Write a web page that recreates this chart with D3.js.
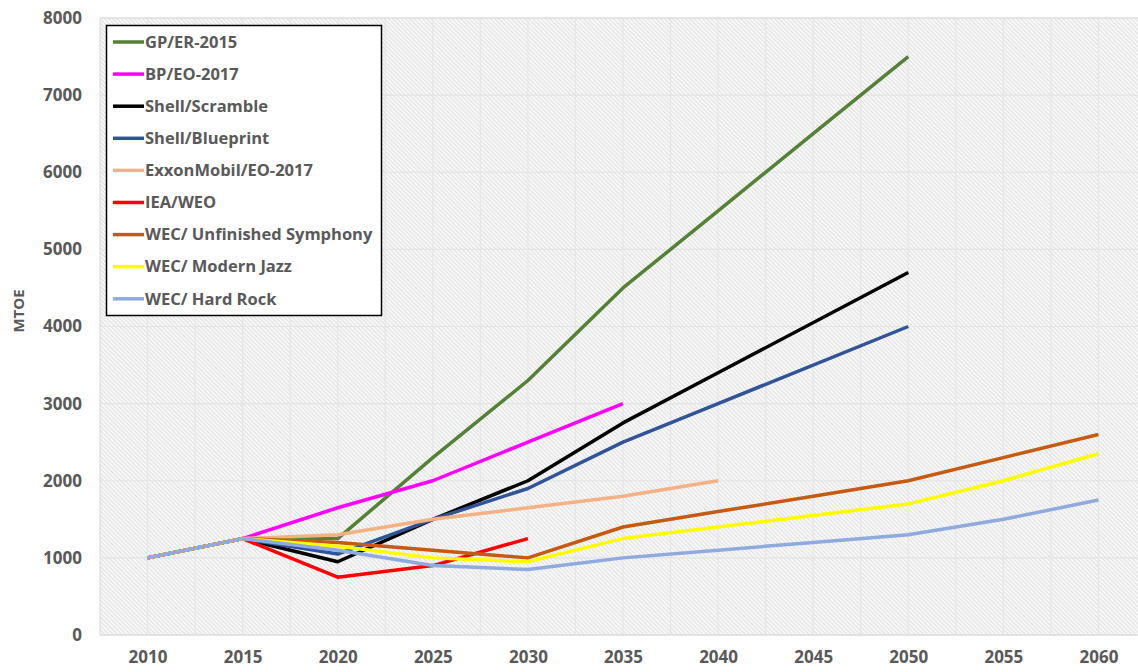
<!DOCTYPE html>
<html>
<head>
<meta charset="utf-8">
<script src="https://cdn.jsdelivr.net/npm/d3@7"></script>
<style>
  html, body { margin: 0; padding: 0; background: #fff; }
  svg text { font-family: "Open Sans", sans-serif; font-weight: 700; fill: #595959; }
</style>
</head>
<body>
<div id="chart"></div>
<script>
const years = [2010, 2015, 2020, 2025, 2030, 2035, 2040, 2045, 2050, 2055, 2060];
const yTicks = [0, 1000, 2000, 3000, 4000, 5000, 6000, 7000, 8000];

const seriesNames = [
  "GP/ER-2015", "BP/EO-2017", "Shell/Scramble", "Shell/Blueprint", "ExxonMobil/EO-2017",
  "IEA/WEO", "WEC/ Unfinished Symphony", "WEC/ Modern Jazz", "WEC/ Hard Rock"
];
const seriesColors = [
  "#548235", "#ff00ff", "#000000", "#2f5597", "#f4b183",
  "#ff0000", "#c55a11", "#ffff00", "#8faadc"
];

// values per year; null = no data
const gpEr2015        = [1000, 1250, 1250, 2300, 3300, 4500, 5500, 6500, 7500, null, null];
const bpEo2017        = [1000, 1250, 1650, 2000, 2500, 3000, null, null, null, null, null];
const shellScramble   = [1000, 1250, 950, 1500, 2000, 2750, 3400, null, 4700, null, null];
const shellBlueprint  = [1000, 1250, 1050, 1500, 1900, 2500, 3000, null, 4000, null, null];
const exxonEo2017     = [1000, 1250, 1300, 1500, 1650, 1800, 2000, null, null, null, null];
const ieaWeo          = [1000, 1250, 750, 900, 1250, null, null, null, null, null, null];
const wecUnfinished   = [1000, 1250, 1200, 1100, 1000, 1400, 1600, 1800, 2000, 2300, 2600];
const wecModernJazz   = [1000, 1250, 1150, 1000, 950, 1250, 1400, 1550, 1700, 2000, 2350];
const wecHardRock     = [1000, 1250, 1100, 900, 850, 1000, 1100, 1200, 1300, 1500, 1750];

const seriesValues = [gpEr2015, bpEo2017, shellScramble, shellBlueprint, exxonEo2017,
  ieaWeo, wecUnfinished, wecModernJazz, wecHardRock];

const W = 1138, H = 672;
const plot = { left: 100, right: 1146, top: 18, bottom: 635 };

const svg = d3.select("#chart").append("svg").attr("width", W).attr("height", H);

const x = d3.scaleLinear().domain([2007.5, 2062.5]).range([plot.left, plot.right]);
const y = d3.scaleLinear().domain([0, 8000]).range([plot.bottom, plot.top]);

// hatched background
const defs = svg.append("defs");
const pat = defs.append("pattern")
  .attr("id", "hatch").attr("patternUnits", "userSpaceOnUse")
  .attr("width", 3).attr("height", 3)
  .attr("patternTransform", "rotate(-45)");
pat.append("rect").attr("width", 3).attr("height", 3).attr("fill", "#f8f8f8");
pat.append("rect").attr("width", 1).attr("height", 3).attr("fill", "#e0e0e0");

svg.append("rect")
  .attr("x", plot.left).attr("y", plot.top)
  .attr("width", plot.right - plot.left).attr("height", plot.bottom - plot.top)
  .attr("fill", "url(#hatch)");

// grid
const vGrid = d3.range(2010, 2062.6, 2.5);
svg.append("g").selectAll("line").data(vGrid).join("line")
  .attr("x1", d => x(d)).attr("x2", d => x(d))
  .attr("y1", plot.top).attr("y2", plot.bottom)
  .attr("stroke", "#e6e6e6").attr("stroke-width", 1.2);
svg.append("g").selectAll("line").data(yTicks).join("line")
  .attr("x1", plot.left).attr("x2", plot.right)
  .attr("y1", d => y(d)).attr("y2", d => y(d))
  .attr("stroke", "#e4e4e4").attr("stroke-width", 1.2);

svg.append("rect")
  .attr("x", plot.left).attr("y", plot.top)
  .attr("width", plot.right - plot.left).attr("height", plot.bottom - plot.top)
  .attr("fill", "none").attr("stroke", "#d9d9d9");

// axes
const yAxis = svg.append("g")
  .attr("transform", `translate(${plot.left - 18},0)`)
  .call(d3.axisLeft(y).tickValues(yTicks).tickFormat(d3.format("d")).tickSize(0).tickPadding(0));
yAxis.select(".domain").remove();
yAxis.selectAll("text").attr("font-size", 17).style("font-family", null);

const xAxis = svg.append("g")
  .attr("transform", `translate(0,${plot.bottom + 16})`)
  .call(d3.axisBottom(x).tickValues(years).tickFormat(d3.format("d")).tickSize(0).tickPadding(0));
xAxis.select(".domain").remove();
xAxis.selectAll("text").attr("font-size", 17).attr("dy", "0.71em").style("font-family", null);

svg.append("text")
  .attr("transform", `translate(24,311) rotate(-90)`)
  .attr("text-anchor", "middle").attr("font-size", 15).text("MTOE");

// lines
const line = d3.line()
  .defined(d => d.v !== null)
  .x(d => x(d.year)).y(d => y(d.v));

svg.append("g").selectAll("path")
  .data(seriesValues.map((vals, i) => ({
    color: seriesColors[i],
    pts: years.map((yr, j) => ({ year: yr, v: vals[j] })).filter(p => p.v !== null)
  })))
  .join("path")
  .attr("d", d => line(d.pts))
  .attr("fill", "none")
  .attr("stroke", d => d.color)
  .attr("stroke-width", 3.5)
  .attr("stroke-linejoin", "round");

// legend
const lg = svg.append("g");
lg.append("rect")
  .attr("x", 106.5).attr("y", 25.5).attr("width", 275).attr("height", 290)
  .attr("fill", "#fff").attr("stroke", "#000").attr("stroke-width", 1.5);
const rows = lg.selectAll("g.row").data(seriesNames).join("g")
  .attr("class", "row")
  .attr("transform", (d, i) => `translate(0,${42 + i * 32.1})`);
rows.append("line")
  .attr("x1", 113).attr("x2", 144)
  .attr("stroke", (d, i) => seriesColors[i]).attr("stroke-width", 3.5);
rows.append("text")
  .attr("x", 145).attr("dy", "0.35em").attr("font-size", 16.5).attr("font-weight", 600)
  .text(d => d);
</script>
</body>
</html>
